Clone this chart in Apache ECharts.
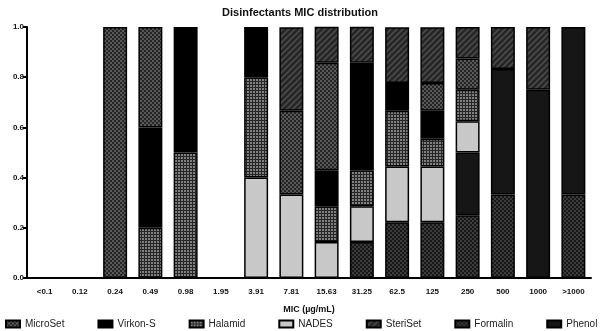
<!DOCTYPE html>
<html>
<head>
<meta charset="utf-8">
<script src="https://cdn.jsdelivr.net/npm/echarts@6/dist/echarts.min.js"></script>
<style>
  html, body { margin: 0; padding: 0; background: #fff; }
  #chart { width: 600px; height: 331px; }
</style>
</head>
<body>
<div id="chart"></div>
<script>
const categories = ['<0.1', '0.12', '0.24', '0.49', '0.98', '1.95', '3.91', '7.81', '15.63', '31.25', '62.5', '125', '250', '500', '1000', '>1000']
const yTicks = ['0.0', '0.2', '0.4', '0.6', '0.8', '1.0']

// fractions per MIC category, stacked bottom -> top in this order
const formalin = [0, 0, 0, 0, 0, 0, 0, 0, 0, 0.143, 0.222, 0.222, 0.25, 0.333, 0, 0.333]
const phenol   = [0, 0, 0, 0, 0, 0, 0, 0, 0, 0, 0, 0, 0.25, 0.5, 0.75, 0.667]
const nades    = [0, 0, 0, 0, 0, 0, 0.4, 0.333, 0.143, 0.143, 0.222, 0.222, 0.125, 0, 0, 0]
const halamid  = [0, 0, 0, 0.2, 0.5, 0, 0.4, 0, 0.143, 0.143, 0.222, 0.111, 0.125, 0, 0, 0]
const virkonS  = [0, 0, 0, 0.4, 0.5, 0, 0.2, 0, 0.143, 0.429, 0.111, 0.111, 0, 0, 0, 0]
const microSet = [0, 0, 1, 0.4, 0, 0, 0, 0.333, 0.429, 0, 0, 0.111, 0.125, 0, 0, 0]
const steriSet = [0, 0, 0, 0, 0, 0, 0, 0.333, 0.143, 0.143, 0.222, 0.222, 0.125, 0.167, 0.25, 0]

const legendOrder = ['MicroSet', 'Virkon-S', 'Halamid', 'NADES', 'SteriSet', 'Formalin', 'Phenol']

// small canvas tiles used as fill patterns
function tile(size, draw) {
  const c = document.createElement('canvas')
  c.width = size; c.height = size
  draw(c.getContext('2d'))
  return { image: c, repeat: 'repeat' }
}
const checker = (bg, dot) => tile(4, g => {
  g.fillStyle = bg; g.fillRect(0, 0, 4, 4)
  g.fillStyle = dot; g.fillRect(0, 0, 2, 2); g.fillRect(2, 2, 2, 2)
})
const grid = tile(3, g => {
  g.fillStyle = '#808080'; g.fillRect(0, 0, 3, 3)
  g.fillStyle = '#262626'; g.fillRect(0, 0, 3, 1); g.fillRect(0, 0, 1, 3)
})
const hatch = tile(6, g => {
  g.fillStyle = '#262626'; g.fillRect(0, 0, 6, 6)
  g.strokeStyle = '#4a4a4a'; g.lineWidth = 1.6
  g.beginPath()
  g.moveTo(-1, 7); g.lineTo(7, -1)
  g.moveTo(-1, 1); g.lineTo(1, -1)
  g.moveTo(5, 7); g.lineTo(7, 5)
  g.stroke()
})

const seriesDefs = [
  { name: 'Formalin', data: formalin, color: checker('#181818', '#3c3c3c') },
  { name: 'Phenol', data: phenol, color: '#161616' },
  { name: 'NADES', data: nades, color: '#c8c8c8' },
  { name: 'Halamid', data: halamid, color: grid },
  { name: 'Virkon-S', data: virkonS, color: '#000' },
  { name: 'MicroSet', data: microSet, color: checker('#262626', '#575757') },
  { name: 'SteriSet', data: steriSet, color: hatch }
]

const chart = echarts.init(document.getElementById('chart'), null, { renderer: 'canvas' })

const option = {
  animation: false,
  title: {
    text: 'Disinfectants MIC distribution',
    left: 'center',
    top: 2,
    textStyle: { fontFamily: 'Liberation Sans', fontWeight: 'bold', fontSize: 11, color: '#111' }
  },
  legend: {
    data: legendOrder,
    orient: 'horizontal',
    icon: 'rect',
    bottom: 2,
    left: 5,
    width: 598,
    padding: 0,
    itemWidth: 14,
    itemHeight: 7,
    itemGap: 33,
    textStyle: { fontFamily: 'Liberation Sans', fontSize: 10, color: '#222' }
  },
  grid: { left: 27, right: 9, top: 27, bottom: 53 },
  xAxis: {
    type: 'category',
    data: categories,
    name: 'MIC (µg/mL)',
    nameLocation: 'middle',
    nameGap: 27,
    nameTextStyle: { fontFamily: 'Liberation Sans', fontWeight: 'bold', fontSize: 9, color: '#111' },
    axisLine: { lineStyle: { color: '#000', width: 2 } },
    axisTick: { alignWithLabel: true, length: 4, lineStyle: { color: '#000', width: 2 } },
    axisLabel: { fontFamily: 'Liberation Sans', fontWeight: 'bold', fontSize: 8, color: '#111', margin: 10 }
  },
  yAxis: {
    type: 'value',
    min: 0,
    max: 1,
    interval: 0.2,
    splitLine: { show: false },
    axisLine: { show: true, lineStyle: { color: '#000', width: 2 } },
    axisTick: { show: true, length: 4, lineStyle: { color: '#000', width: 2 } },
    axisLabel: {
      fontFamily: 'Liberation Sans', fontWeight: 'bold', fontSize: 8, color: '#111', margin: 3,
      formatter: v => yTicks[Math.round(v * 5)]
    }
  },
  series: seriesDefs.map(s => ({
    name: s.name,
    type: 'bar',
    stack: 'total',
    barWidth: '68%',
    data: s.data.map(v => (v > 0 ? v : '-')),
    itemStyle: { color: s.color, borderColor: '#000', borderWidth: 1.5 }
  }))
}

chart.setOption(option)
</script>
</body>
</html>
